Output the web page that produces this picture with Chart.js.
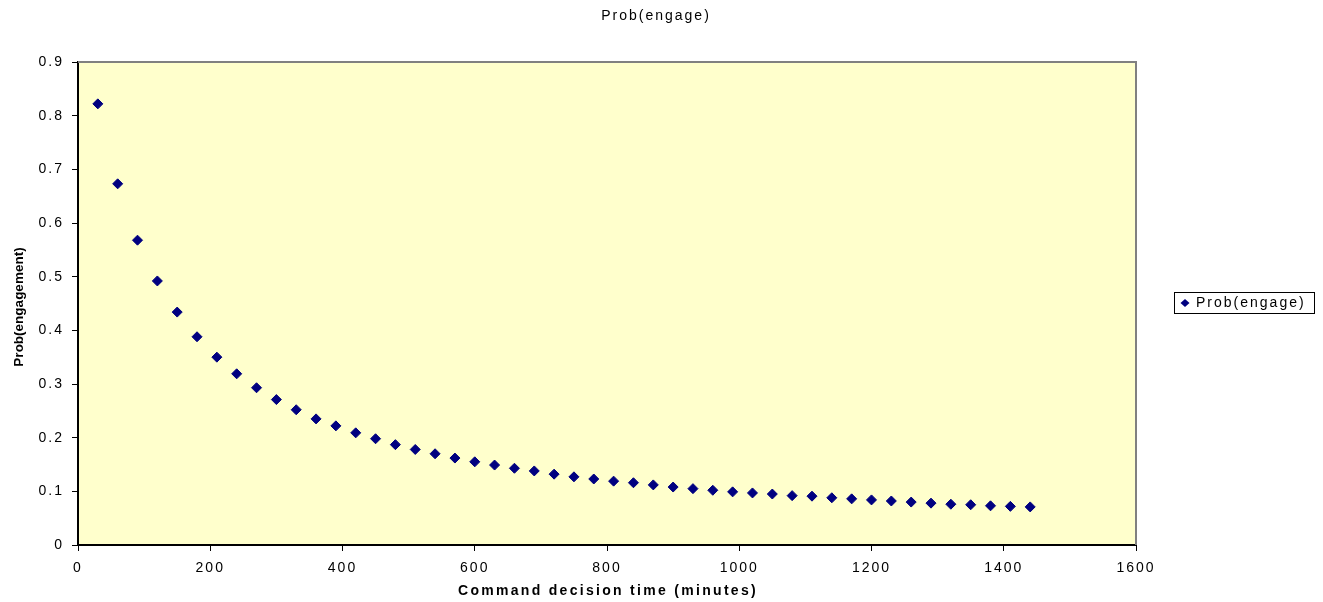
<!DOCTYPE html>
<html>
<head>
<meta charset="utf-8">
<title>Prob(engage)</title>
<script src="https://cdn.jsdelivr.net/npm/chart.js@4.4.1/dist/chart.umd.min.js"></script>
<style>
  html, body { margin: 0; padding: 0; background: #ffffff; }
  #wrap { width: 1323px; height: 602px; }
</style>
</head>
<body>
<div id="wrap"><canvas id="chart" width="1323" height="602"></canvas></div>
<script>
// Command decision time (minutes) for each sample
const decisionTimes = [
  30, 60, 90, 120, 150, 180, 210, 240, 270, 300, 330, 360,
  390, 420, 450, 480, 510, 540, 570, 600, 630, 660, 690, 720,
  750, 780, 810, 840, 870, 900, 930, 960, 990, 1020, 1050, 1080,
  1110, 1140, 1170, 1200, 1230, 1260, 1290, 1320, 1350, 1380, 1410, 1440
];

// Probability of engagement at each decision time
const probEngage = [
  0.822, 0.673, 0.568, 0.492, 0.434, 0.388, 0.350, 0.319, 0.293, 0.271, 0.252, 0.235,
  0.222, 0.209, 0.198, 0.187, 0.178, 0.170, 0.162, 0.155, 0.149, 0.143, 0.138, 0.132,
  0.127, 0.123, 0.119, 0.116, 0.112, 0.108, 0.105, 0.102, 0.099, 0.097, 0.095, 0.092,
  0.091, 0.088, 0.086, 0.084, 0.082, 0.080, 0.078, 0.076, 0.075, 0.073, 0.072, 0.071
];

const chartTitle = 'Prob(engage)';
const seriesName = 'Prob(engage)';
const xAxisTitle = 'Command decision time (minutes)';
const yAxisTitle = 'Prob(engagement)';

const xAxisRange = { min: 0, max: 1600, step: 200 };
const yAxisRange = { min: 0, max: 0.9, step: 0.1 };

const FONT = '"Liberation Sans", Arial, Helvetica, sans-serif';
const MARKER = '#000080';

const points = decisionTimes.map((t, i) => ({ x: t, y: probEngage[i] }));

// Pale yellow plot background, plus the grey frame on the top and right edges
const plotFrame = {
  id: 'plotFrame',
  beforeDraw(chart) {
    const { ctx, chartArea: a } = chart;
    ctx.save();
    ctx.fillStyle = '#FFFFCC';
    ctx.fillRect(a.left, a.top, a.right - a.left, a.bottom - a.top);
    ctx.restore();
    // spaced-out lettering for tick labels
    ctx.letterSpacing = '2px';
  },
  beforeDatasetsDraw(chart) {
    const { ctx, chartArea: a } = chart;
    ctx.save();
    ctx.strokeStyle = '#808080';
    ctx.lineWidth = 2;
    ctx.beginPath();
    ctx.moveTo(a.left, a.top);
    ctx.lineTo(a.right, a.top);
    ctx.lineTo(a.right, a.bottom);
    ctx.stroke();
    ctx.restore();
  }
};

// Title, axis titles and the boxed legend
const chartText = {
  id: 'chartText',
  afterDraw(chart) {
    const { ctx, chartArea: a } = chart;
    ctx.save();
    ctx.fillStyle = '#000';

    // chart title
    ctx.font = '14px ' + FONT;
    ctx.letterSpacing = '2px';
    ctx.textAlign = 'center';
    ctx.textBaseline = 'middle';
    ctx.fillText(chartTitle, 656, 16);

    // x axis title
    ctx.font = 'bold 14px ' + FONT;
    ctx.letterSpacing = '2.3px';
    ctx.fillText(xAxisTitle, (a.left + a.right) / 2 + 1, 591);

    // y axis title
    ctx.save();
    ctx.translate(19, 307);
    ctx.rotate(-Math.PI / 2);
    ctx.font = 'bold 13.5px ' + FONT;
    ctx.letterSpacing = '0px';
    ctx.fillText(yAxisTitle, 0, 0);
    ctx.restore();

    // legend
    const lx = 1174.5, ly = 292.5, lw = 140, lh = 21;
    ctx.fillStyle = '#ffffff';
    ctx.fillRect(lx, ly, lw, lh);
    ctx.strokeStyle = '#000';
    ctx.lineWidth = 1;
    ctx.strokeRect(lx, ly, lw, lh);
    const cx = 1185, cy = 303, r = 4;
    ctx.fillStyle = MARKER;
    ctx.beginPath();
    ctx.moveTo(cx - r - 0.5, cy);
    ctx.lineTo(cx, cy - r);
    ctx.lineTo(cx + r + 0.5, cy);
    ctx.lineTo(cx, cy + r);
    ctx.closePath();
    ctx.fill();
    ctx.fillStyle = '#000';
    ctx.font = '14px ' + FONT;
    ctx.letterSpacing = '2px';
    ctx.textAlign = 'left';
    ctx.fillText(seriesName, 1196, 303);

    ctx.restore();
  }
};

new Chart(document.getElementById('chart'), {
  type: 'scatter',
  data: {
    datasets: [{
      label: seriesName,
      data: points,
      pointStyle: 'rectRot',
      pointRadius: 5,
      pointHoverRadius: 5,
      backgroundColor: MARKER,
      borderColor: MARKER,
      borderWidth: 1
    }]
  },
  options: {
    responsive: false,
    animation: false,
    events: [],
    layout: { padding: { top: 62, right: 187, left: 0, bottom: 0 } },
    plugins: {
      legend: { display: false },
      title: { display: false },
      tooltip: { enabled: false }
    },
    scales: {
      x: {
        type: 'linear',
        min: xAxisRange.min,
        max: xAxisRange.max,
        afterFit(scale) { scale.height = 57; },
        ticks: {
          stepSize: xAxisRange.step,
          color: '#000',
          padding: 9,
          font: { family: FONT, size: 14 },
          callback: (v) => String(v)
        },
        grid: {
          drawOnChartArea: false,
          drawTicks: true,
          tickLength: 6,
          color: '#000'
        },
        border: { display: true, color: '#000', width: 2 }
      },
      y: {
        type: 'linear',
        min: yAxisRange.min,
        max: yAxisRange.max,
        afterFit(scale) { scale.width = 78; },
        ticks: {
          stepSize: yAxisRange.step,
          color: '#000',
          padding: 8,
          font: { family: FONT, size: 14 },
          callback: (v) => (Math.round(v * 10) / 10).toString()
        },
        grid: {
          drawOnChartArea: false,
          drawTicks: true,
          tickLength: 6,
          color: '#000'
        },
        border: { display: true, color: '#000', width: 2 }
      }
    }
  },
  plugins: [plotFrame, chartText]
});
</script>
</body>
</html>
